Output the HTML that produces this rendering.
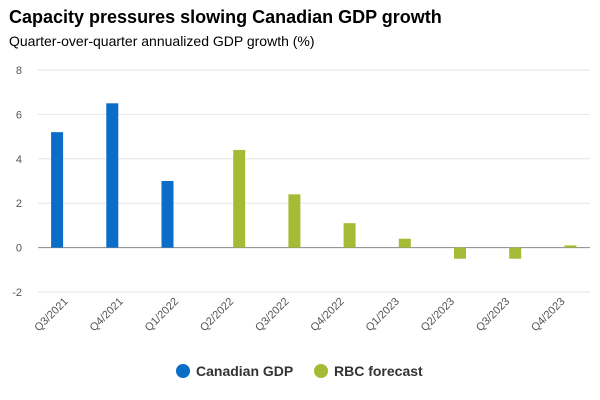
<!DOCTYPE html>
<html><head><meta charset="utf-8">
<style>
body{margin:0;background:#fff;font-family:"Liberation Sans",sans-serif;}
#wrap{position:relative;width:600px;height:400px;overflow:hidden;}
h1{position:absolute;left:9px;top:7px;margin:0;font-size:18px;font-weight:bold;color:#000;}
h2{position:absolute;left:9px;top:33px;margin:0;font-size:14px;font-weight:normal;color:#000;}
</style></head><body>
<div id="wrap">
<h1>Capacity pressures slowing Canadian GDP growth</h1>
<h2>Quarter-over-quarter annualized GDP growth (%)</h2>
<svg id="chart" width="600" height="400" style="position:absolute;left:0;top:0"></svg>
</div>
<script>
const categories=["Q3/2021","Q4/2021","Q1/2022","Q2/2022","Q3/2022","Q4/2022","Q1/2023","Q2/2023","Q3/2023","Q4/2023"];
const canadianGDP=[5.2,6.5,3.0,null,null,null,null,null,null,null];
const rbcForecast=[null,null,null,4.4,2.4,1.1,0.4,-0.5,-0.5,0.1];
const yTicks=[-2,0,2,4,6,8];
const seriesNames=["Canadian GDP","RBC forecast"];
const colors=["#0a6ec8","#a5bb36"];
const svg=document.getElementById('chart');
const NS='http://www.w3.org/2000/svg';
const L=38,R=590,yMin=-2,yMax=8,yTop=70,yBot=292;
const y=v=>yBot-(v-yMin)/(yMax-yMin)*(yBot-yTop);
const cw=(R-L)/categories.length;
const xc=i=>L+cw*(i+0.5);
function mk(t,a){const e=document.createElementNS(NS,t);for(const k in a)e.setAttribute(k,a[k]);svg.appendChild(e);return e;}
yTicks.forEach(t=>{
 const g=mk('line',{x1:L,x2:R,y1:y(t),y2:y(t),stroke:t===0?'#888':'#e6e6e6','stroke-width':1});
 
 
 const tx=mk('text',{x:22,y:y(t)+4,'text-anchor':'end','font-size':11,fill:'#555','font-family':'Liberation Sans, sans-serif'});
 tx.textContent=t;
 
 
});
const bw=12;
[canadianGDP,rbcForecast].forEach((s,si)=>{
 s.forEach((v,i)=>{
  if(v===null)return;
  const cx=xc(i)+(si===0?-8.5:8);
  const r=mk('rect',{x:cx-bw/2,y:Math.min(y(v),y(0)),width:bw,height:Math.abs(y(v)-y(0)),fill:colors[si]});
  
  
 });
});
categories.forEach((c,i)=>{
 const x=xc(i)+3,yy=302;
 const t=mk('text',{x:x,y:yy,'text-anchor':'end','font-size':11,fill:'#555','font-family':'Liberation Sans, sans-serif',transform:`rotate(-45 ${x} ${yy})`});
 t.textContent=c;
 
 
});
const leg=[[176,"Canadian GDP"],[314,"RBC forecast"]];
leg.forEach((l,i)=>{
 const c=mk('circle',{cx:l[0]+7,cy:371,r:7,fill:colors[i]});
 
 
 const t=mk('text',{x:l[0]+20,y:376,'font-size':14,'font-weight':'bold',fill:'#333','font-family':'Liberation Sans, sans-serif'});
 t.textContent=seriesNames[i];
 
 
});
</script>
</body></html>
